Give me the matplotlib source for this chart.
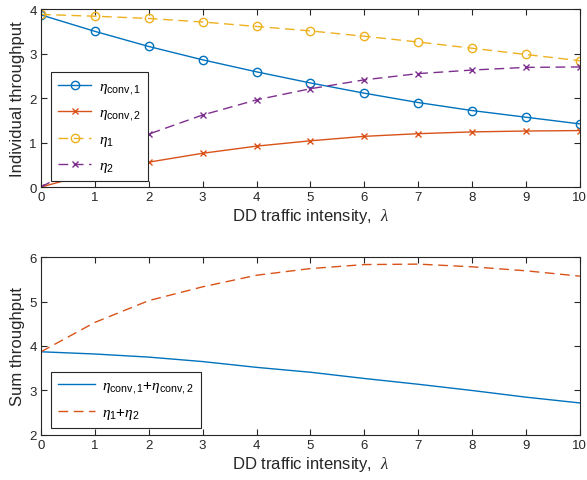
import matplotlib.pyplot as plt
import numpy as np

plt.rcParams['font.family'] = ['Liberation Sans', 'DejaVu Sans']
plt.rcParams['mathtext.fontset'] = 'custom'
plt.rcParams['mathtext.it'] = 'Liberation Serif:italic'
plt.rcParams['mathtext.rm'] = 'Liberation Sans'

# traffic intensity lambda
lam = np.arange(0, 11)

# individual throughput
eta_conv1 = [3.87, 3.50, 3.16, 2.86, 2.59, 2.34, 2.11, 1.90, 1.72, 1.57, 1.42]
eta_conv2 = [0.00, 0.33, 0.56, 0.76, 0.92, 1.04, 1.14, 1.20, 1.24, 1.26, 1.27]
eta_1 = [3.88, 3.84, 3.79, 3.71, 3.61, 3.51, 3.39, 3.26, 3.12, 2.98, 2.84]
eta_2 = [0.00, 0.65, 1.19, 1.62, 1.96, 2.21, 2.41, 2.55, 2.63, 2.69, 2.70]

# sum throughput
sum_conv = [3.87, 3.82, 3.75, 3.65, 3.52, 3.41, 3.27, 3.14, 3.00, 2.85, 2.72]
sum_dd = [3.87, 4.53, 5.02, 5.33, 5.59, 5.74, 5.83, 5.84, 5.78, 5.69, 5.57]

blue = '#0072BD'
red = '#D95319'
yellow = '#EDB120'
purple = '#7E2F8E'
axcol = '#262626'

fig = plt.figure(figsize=(5.87, 4.81), dpi=100)
ax1 = fig.add_axes([0.0698, 0.609, 0.918, 0.370])
ax2 = fig.add_axes([0.0698, 0.0936, 0.918, 0.370])

dash = (0, (7, 4))
ax1.plot(lam, eta_conv1, color=blue, lw=1, marker='o', ms=6, mfc='none', label=r'$\eta_{\rm conv,1}$')
ax1.plot(lam, eta_conv2, color=red, lw=1, marker='x', ms=4.5, label=r'$\eta_{\rm conv,2}$')
ax1.plot(lam, eta_1, color=yellow, lw=1, ls=dash, marker='o', ms=6, mfc='none', label=r'$\eta_1$')
ax1.plot(lam, eta_2, color=purple, lw=1, ls=dash, marker='x', ms=4.5, label=r'$\eta_2$')
ax1.set_ylim(0, 4)
ax1.set_yticks([0, 1, 2, 3, 4])
ax1.set_ylabel('Individual throughput', fontsize=12, color=axcol, labelpad=3)

ax2.plot(lam, sum_conv, color=blue, lw=1, label=r'$\eta_{\rm conv,1}{+}\eta_{\rm conv,2}$')
ax2.plot(lam, sum_dd, color=red, lw=1, ls=dash, label=r'$\eta_1{+}\eta_2$')
ax2.set_ylim(2, 6)
ax2.set_yticks([2, 3, 4, 5, 6])
ax2.set_ylabel('Sum throughput', fontsize=12, color=axcol, labelpad=3)

for ax in (ax1, ax2):
    ax.set_xlim(0, 10)
    ax.set_xticks(lam)
    ax.set_xlabel(r'DD traffic intensity,  $\lambda$', fontsize=12, color=axcol, labelpad=2)
    ax.tick_params(direction='in', top=True, right=True, labelsize=9.5,
                   colors=axcol, length=4, width=0.8, pad=3)
    for s in ax.spines.values():
        s.set_color(axcol)
        s.set_linewidth(0.8)

leg1 = ax1.legend(loc='lower left', bbox_to_anchor=(0.0186, 0.034), borderaxespad=0,
                  fontsize=11, fancybox=False, framealpha=1, edgecolor=axcol,
                  handlelength=2.2, borderpad=0.45, labelspacing=0.65, handletextpad=0.5)
leg1.get_frame().set_linewidth(0.8)
leg2 = ax2.legend(loc='lower left', bbox_to_anchor=(0.0186, 0.039), borderaxespad=0,
                  fontsize=11, fancybox=False, framealpha=1, edgecolor=axcol,
                  handlelength=2.4, borderpad=0.45, labelspacing=0.65, handletextpad=0.5)
leg2.get_frame().set_linewidth(0.8)

fig.savefig('out.png', dpi=100)
